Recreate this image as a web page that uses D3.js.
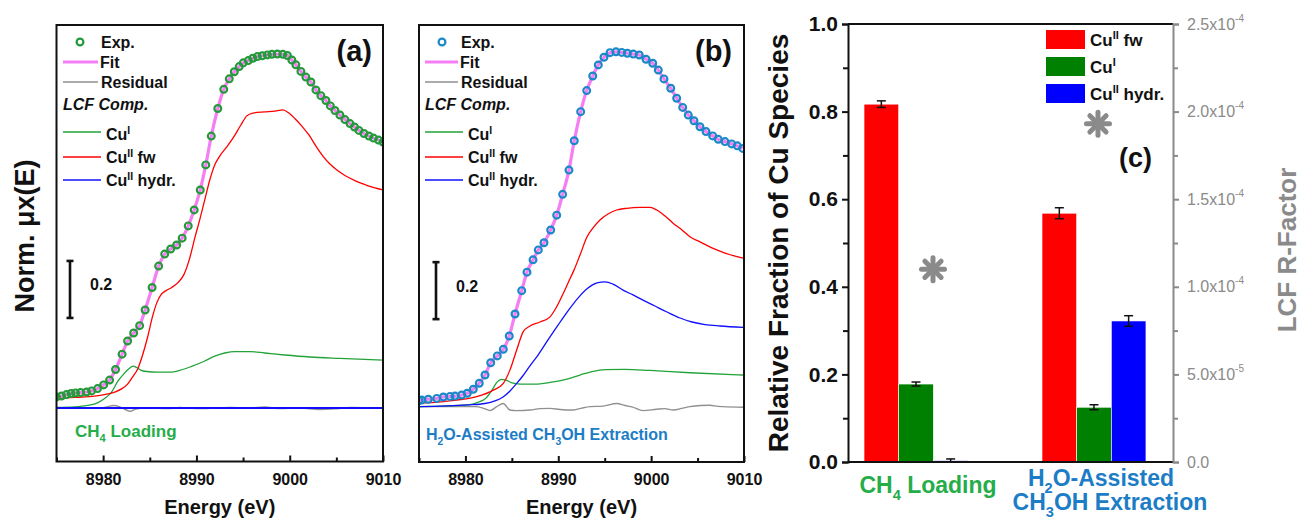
<!DOCTYPE html>
<html><head><meta charset="utf-8">
<script src="https://cdn.jsdelivr.net/npm/d3@7"></script>
<style>body{margin:0;background:#fff}svg{display:block}</style>
</head><body>
<svg id="chart" width="1302" height="520"></svg>
<script>
// ---------------- DATA ----------------
const energyTicks = [8980, 8990, 9000, 9010];
const energyMinor = [8975, 8985, 8995, 9005];

// Panel (a): CH4 loading  [energy (eV), norm. mu]
const expA = [[8975.00,0.039],[8975.54,0.042],[8976.07,0.047],[8976.56,0.051],[8977.04,0.053],[8977.58,0.054],[8978.22,0.056],[8978.76,0.060],[8979.40,0.068],[8980.05,0.081],[8980.69,0.098],[8981.33,0.135],[8982.03,0.189],[8982.62,0.235],[8983.27,0.263],[8983.91,0.289],[8984.50,0.344],[8985.25,0.423],[8985.95,0.498],[8986.60,0.540],[8987.24,0.558],[8987.88,0.572],[8988.47,0.596],[8989.12,0.639],[8989.76,0.695],[8990.41,0.765],[8991.00,0.853],[8991.59,0.954],[8992.29,1.051],[8992.93,1.118],[8993.52,1.155],[8994.06,1.180],[8994.59,1.198],[8995.02,1.211],[8995.56,1.219],[8996.04,1.227],[8996.53,1.233],[8997.06,1.236],[8997.60,1.239],[8998.08,1.241],[8998.67,1.242],[8999.26,1.241],[8999.75,1.237],[9000.23,1.221],[9000.66,1.204],[9001.20,1.181],[9001.73,1.161],[9002.27,1.144],[9002.81,1.116],[9003.34,1.096],[9003.88,1.079],[9004.36,1.060],[9004.85,1.044],[9005.38,1.028],[9005.92,1.012],[9006.46,0.998],[9006.94,0.986],[9007.42,0.974],[9007.96,0.963],[9008.50,0.954],[9008.98,0.947],[9009.52,0.940],[9010.00,0.933]];
const fitA = expA; // fit overlays the experimental points
const residA = [[8975,0],[8979.6,0],[8980.5,0.005],[8981.1,0.009],[8981.8,0.004],[8982.5,-0.007],[8982.9,-0.012],[8983.5,-0.004],[8984.5,0],[8987.1,-0.002],[8988.2,0.002],[8990.4,-0.002],[8993.6,0.002],[8995.7,0],[8997.3,0.004],[8998.9,-0.002],[9001.1,0],[9003.2,-0.005],[9004.8,-0.003],[9006.5,0.002],[9010,0]];
const cuIA = [[8975.0,0.002],[8976.93,0.004],[8978.33,0.009],[8979.40,0.018],[8980.15,0.033],[8980.90,0.056],[8981.60,0.095],[8982.19,0.119],[8982.73,0.137],[8983.21,0.147],[8983.59,0.142],[8984.02,0.133],[8984.66,0.128],[8985.84,0.126],[8987.13,0.126],[8988.21,0.132],[8989.49,0.146],[8990.89,0.165],[8991.96,0.182],[8993.04,0.193],[8994.11,0.198],[8995.72,0.198],[8997.33,0.193],[8999.48,0.186],[9002.16,0.179],[9005.38,0.174],[9010.0,0.168]];
const cuIIfwA = [[8975.0,0.034],[8976.93,0.037],[8978.54,0.040],[8980.15,0.047],[8981.23,0.056],[8981.98,0.067],[8982.62,0.084],[8983.16,0.109],[8983.70,0.137],[8984.23,0.186],[8984.77,0.249],[8985.31,0.323],[8985.74,0.368],[8986.17,0.396],[8986.70,0.411],[8987.35,0.423],[8987.99,0.439],[8988.64,0.467],[8989.28,0.526],[8989.82,0.596],[8990.35,0.660],[8990.89,0.730],[8991.43,0.800],[8991.96,0.853],[8992.50,0.884],[8993.25,0.916],[8994.00,0.951],[8994.76,0.993],[8995.40,1.025],[8996.04,1.035],[8997.33,1.039],[8998.41,1.042],[8999.26,1.046],[8999.91,1.035],[9000.55,1.016],[9001.30,0.989],[9002.06,0.958],[9002.81,0.919],[9003.56,0.884],[9004.31,0.856],[9005.06,0.835],[9005.92,0.816],[9006.99,0.798],[9008.07,0.784],[9009.14,0.772],[9010.0,0.765]];
const cuIIhydA = [[8975.0,0.0],[8990.0,0.0],[9000.0,0.0],[9010.0,0.0]];

// Panel (b): H2O-assisted CH3OH extraction
const expB = [[8975.00,0.024],[8975.29,0.026],[8976.00,0.029],[8976.91,0.032],[8977.62,0.037],[8978.34,0.039],[8978.88,0.040],[8979.60,0.044],[8980.20,0.050],[8980.85,0.064],[8981.49,0.085],[8982.11,0.114],[8982.72,0.157],[8983.43,0.181],[8984.08,0.204],[8984.72,0.251],[8985.34,0.328],[8986.06,0.410],[8986.63,0.475],[8987.28,0.518],[8987.85,0.553],[8988.46,0.578],[8989.18,0.623],[8989.83,0.675],[8990.47,0.748],[8991.15,0.833],[8991.72,0.936],[8992.41,1.038],[8993.06,1.112],[8993.71,1.163],[8994.31,1.202],[8994.92,1.229],[8995.57,1.245],[8996.21,1.248],[8996.83,1.246],[8997.43,1.243],[8998.08,1.240],[8998.72,1.237],[8999.45,1.222],[9000.17,1.208],[9000.77,1.184],[9001.38,1.153],[9002.11,1.120],[9002.75,1.085],[9003.40,1.053],[9004.00,1.026],[9004.61,1.006],[9005.26,0.985],[9005.91,0.968],[9006.63,0.953],[9007.23,0.941],[9007.95,0.933],[9008.67,0.925],[9009.28,0.918],[9009.86,0.909]];
const fitB = expB;
const residB = [[8975.0,0.003],[8981.03,0.003],[8981.9,-0.002],[8982.65,-0.011],[8983.37,0.003],[8984.08,0.014],[8984.80,-0.009],[8985.52,-0.011],[8986.95,-0.009],[8988.03,-0.004],[8989.11,-0.003],[8990.18,-0.007],[8991.62,-0.009],[8992.55,-0.002],[8993.42,0.003],[8994.81,0.005],[8996.29,0.014],[8997.18,0.007],[8997.94,0.002],[8999.15,-0.011],[9000.60,-0.006],[9001.49,-0.004],[9002.39,-0.009],[9003.43,-0.002],[9004.18,0.003],[9005.26,0.007],[9006.34,0.008],[9007.2,0.004],[9007.77,0.003],[9009.92,0.001]];
const cuIB = [[8975.0,0.003],[8980.28,0.009],[8981.35,0.018],[8982.22,0.033],[8982.86,0.061],[8983.40,0.089],[8983.88,0.099],[8984.37,0.096],[8985.02,0.086],[8985.88,0.082],[8987.49,0.082],[8989.11,0.088],[8990.72,0.098],[8992.34,0.114],[8993.63,0.126],[8995.03,0.133],[8997.18,0.134],[8999.88,0.130],[9004.18,0.122],[9009.92,0.114]];
const cuIIfwB = [[8975.1,0.015],[8979.06,0.026],[8981.21,0.038],[8983.0,0.061],[8984.08,0.085],[8984.80,0.132],[8985.52,0.202],[8986.23,0.266],[8986.95,0.286],[8988.03,0.300],[8989.11,0.318],[8989.75,0.349],[8990.40,0.391],[8991.05,0.437],[8991.69,0.482],[8992.34,0.535],[8993.09,0.598],[8993.74,0.630],[8994.49,0.658],[8995.35,0.679],[8996.29,0.693],[8997.37,0.699],[8998.80,0.702],[8999.88,0.702],[9000.60,0.693],[9001.49,0.672],[9002.39,0.646],[9003.32,0.623],[9004.18,0.599],[9005.26,0.581],[9006.55,0.560],[9007.95,0.542],[9009.92,0.524]];
const cuIIhydB = [[8975.0,0.003],[8980.28,0.009],[8982.11,0.014],[8983.18,0.023],[8984.05,0.037],[8984.80,0.058],[8985.45,0.082],[8986.09,0.107],[8986.95,0.146],[8987.82,0.184],[8988.89,0.237],[8989.97,0.289],[8991.05,0.339],[8992.12,0.384],[8993.20,0.419],[8994.17,0.437],[8995.03,0.441],[8995.89,0.433],[8996.97,0.412],[8998.05,0.395],[8999.12,0.377],[9000.41,0.356],[9001.71,0.335],[9003.11,0.314],[9004.40,0.300],[9005.80,0.291],[9007.42,0.286],[9009.92,0.281]];

// Panel (c): relative fractions
const categories = ["CH4 Loading", "H2O-Assisted CH3OH Extraction"];
const species = ["CuII fw", "CuI", "CuII hydr."];
const fracCuIIfw = [0.817, 0.568];
const fracCuI = [0.178, 0.125];
const fracCuIIhydr = [0.003, 0.322];
const errCuIIfw = [0.0075, 0.0125];
const errCuI = [0.0046, 0.0057];
const errCuIIhydr = [0.004, 0.012];
const rFactor = [1.10e-4, 1.93e-4];
const fracTicks = [0, 0.2, 0.4, 0.6, 0.8, 1.0];
const fracMinor = [0.1, 0.3, 0.5, 0.7, 0.9];
const rTicks = [0, 5e-5, 1e-4, 1.5e-4, 2e-4, 2.5e-4];
const rMinor = [2.5e-5, 7.5e-5, 1.25e-4, 1.75e-4, 2.25e-4];
const rTickLabels = [["0.0",""],["5.0x10","-5"],["1.0x10","-4"],["1.5x10","-4"],["2.0x10","-4"],["2.5x10","-4"]];
const scaleBarLength = 0.2;

// ---------------- STYLE ----------------
const FONT = "'Liberation Sans', Arial, Helvetica, sans-serif";
const C = {red:"#ff0000", green:"#22a33a", blue:"#1010ff", gray:"#8a8a8a", fit:"#f57ef5",
  barRed:"#ff0000", barGreen:"#008000", barBlue:"#0000ff", axisGray:"#8a8a8a",
  lblGreen:"#25ad4a", lblBlue:"#1c7dc6"};

const svg = d3.select("#chart").attr("font-family", FONT);

function rich(sel, parts, size) {
  let shift = 0;
  parts.forEach(([s, m]) => {
    const target = m === "sub" ? size * 0.3 : m === "sup" ? -size * 0.4 : 0;
    const ts = sel.append("tspan").text(s).attr("dy", target - shift);
    if (m) ts.attr("font-size", size * 0.65);
    shift = target;
  });
}

// ---------------- SPECTRA PANELS ----------------
function spectra(P) {
  const g = svg.append("g");
  const x = d3.scaleLinear().domain([8975, 9010]).range([P.left, P.right]);
  const y = d3.scaleLinear().domain([0, 1]).range([P.zero, P.zero - 285]);
  const cid = "clip" + P.id;
  svg.append("clipPath").attr("id", cid).append("rect")
    .attr("x", P.left).attr("y", P.top).attr("width", P.right - P.left).attr("height", P.bottom - P.top);
  const line = d3.line().x(d => x(d[0])).y(d => y(d[1])).curve(d3.curveMonotoneX);
  const plot = g.append("g").attr("clip-path", `url(#${cid})`);
  const add = (data, col, w) => plot.append("path").datum(data).attr("d", line)
    .attr("fill", "none").attr("stroke", col).attr("stroke-width", w).attr("stroke-linejoin", "round");
  add(P.resid, "#909090", 1.4);
  add(P.cuI, C.green, 1.3);
  add(P.cuIIfw, C.red, 1.3);
  add(P.cuIIhyd, C.blue, P.id === "a" ? 1.8 : 1.3);
  add(P.fit, C.fit, 3.2);
  plot.selectAll("circle.exp").data(P.exp).join("circle").attr("class", "exp")
    .attr("cx", d => x(d[0])).attr("cy", d => y(d[1])).attr("r", 3.4)
    .attr("fill", "none").attr("stroke", P.expColor).attr("stroke-width", 2.2);

  // frame
  g.append("rect").attr("x", P.left).attr("y", P.top).attr("width", P.right - P.left)
    .attr("height", P.bottom - P.top).attr("fill", "none").attr("stroke", "#111").attr("stroke-width", 2);

  // x axis
  const ax = g.append("g").attr("transform", `translate(0,${P.bottom})`)
    .call(d3.axisBottom(x).tickValues(energyTicks).tickSize(-6).tickPadding(12).tickFormat(d3.format("d")));
  ax.select(".domain").remove();
  ax.selectAll("line").attr("stroke", "#111").attr("stroke-width", 2);
  ax.selectAll("text").attr("font-size", 16).attr("font-weight", "bold").attr("fill", "#111").attr("font-family", FONT);
  const axm = g.append("g").attr("transform", `translate(0,${P.bottom})`)
    .call(d3.axisBottom(x).tickValues(energyMinor).tickSize(-4).tickFormat(""));
  axm.select(".domain").remove();
  axm.selectAll("line").attr("stroke", "#111").attr("stroke-width", 2);

  g.append("text").attr("x", (P.left + P.right) / 2).attr("y", 514).attr("text-anchor", "middle")
    .attr("font-size", 20).attr("font-weight", "bold").attr("fill", "#111").text("Energy (eV)");

  // panel tag
  g.append("text").attr("x", P.tagX).attr("y", 61).attr("text-anchor", "end")
    .attr("font-size", 29).attr("font-weight", "bold").attr("fill", "#111").text(P.tag);

  // scale bar
  const yb0 = y(P.barBase), yb1 = y(P.barBase + scaleBarLength);
  const sb = g.append("g").attr("stroke", "#111").attr("stroke-width", 2.6);
  sb.append("line").attr("x1", P.barX).attr("x2", P.barX).attr("y1", yb0).attr("y2", yb1);
  sb.append("line").attr("x1", P.barX - 3.5).attr("x2", P.barX + 3.5).attr("y1", yb0).attr("y2", yb0);
  sb.append("line").attr("x1", P.barX - 3.5).attr("x2", P.barX + 3.5).attr("y1", yb1).attr("y2", yb1);
  g.append("text").attr("x", P.barX + 20).attr("y", P.barTextY).attr("font-size", 16).attr("font-weight", "bold")
    .attr("fill", "#111").text(scaleBarLength.toFixed(1));

  // sample label
  const st = g.append("text").attr("x", P.sampleX).attr("y", P.sampleY).attr("font-size", P.sampleSize)
    .attr("font-weight", "bold").attr("fill", P.sampleColor);
  rich(st, P.sample, P.sampleSize);

  // legend
  const L = P.leg, fs = 16;
  const lg = g.append("g").attr("font-size", fs).attr("font-weight", "bold").attr("fill", "#111");
  lg.append("circle").attr("cx", L.mx).attr("cy", 42).attr("r", 3.4).attr("fill", "none")
    .attr("stroke", P.expColor).attr("stroke-width", 2.2);
  lg.append("text").attr("x", L.tx).attr("y", 48).text("Exp.");
  lg.append("line").attr("x1", L.x0).attr("x2", L.x1).attr("y1", 62).attr("y2", 62).attr("stroke", C.fit).attr("stroke-width", 3.2);
  lg.append("text").attr("x", L.tx - 1).attr("y", 68).text("Fit");
  lg.append("line").attr("x1", L.x0).attr("x2", L.x1).attr("y1", 82).attr("y2", 82).attr("stroke", "#909090").attr("stroke-width", 1.4);
  lg.append("text").attr("x", L.tx).attr("y", 88).text("Residual");
  lg.append("text").attr("x", L.x0).attr("y", 110).attr("font-style", "italic").text("LCF Comp.");
  const comps = [[C.green, [["Cu",""],["I","sup"]], 132, 140],
                 [C.red, [["Cu",""],["II","sup"],[" fw",""]], 157, 163],
                 [C.blue, [["Cu",""],["II","sup"],[" hydr.",""]], 180, 186]];
  comps.forEach(([col, parts, ly, ty]) => {
    lg.append("line").attr("x1", L.x0).attr("x2", L.cx1).attr("y1", ly).attr("y2", ly).attr("stroke", col).attr("stroke-width", 1.4);
    rich(lg.append("text").attr("x", L.ctx).attr("y", ty), parts, fs);
  });
}

spectra({id:"a", left:56.5, right:383, top:25, bottom:461.5, zero:408,
  exp:expA, fit:fitA, resid:residA, cuI:cuIA, cuIIfw:cuIIfwA, cuIIhyd:cuIIhydA,
  expColor:"#259a3b", tag:"(a)", tagX:372, barX:70, barBase:0.316, barTextY:290,
  sample:[["CH",""],["4","sub"],[" Loading",""]], sampleColor:C.lblGreen, sampleX:75, sampleY:437, sampleSize:17,
  leg:{mx:80, tx:101, x0:63, x1:98, cx1:101, ctx:106}});

spectra({id:"b", left:419, right:744, top:25, bottom:462, zero:407.5,
  exp:expB, fit:fitB, resid:residB, cuI:cuIB, cuIIfw:cuIIfwB, cuIIhyd:cuIIhydB,
  expColor:"#1b88c8", tag:"(b)", tagX:732, barX:436, barBase:0.31, barTextY:292,
  sample:[["H",""],["2","sub"],["O-Assisted CH",""],["3","sub"],["OH Extraction",""]], sampleColor:C.lblBlue, sampleX:426, sampleY:440, sampleSize:16,
  leg:{mx:442, tx:461, x0:425, x1:458, cx1:463, ctx:468}});

// y label for (a)
svg.append("text").attr("transform", "translate(34,236) rotate(-90)").attr("text-anchor", "middle")
  .attr("font-size", 27).attr("font-weight", "bold").attr("fill", "#111").text("Norm. μx(E)");

// ---------------- PANEL (c) ----------------
(function () {
  const L = 848, R = 1173, T = 24, B = 462;
  const g = svg.append("g");
  const y = d3.scaleLinear().domain([0, 1]).range([B, T]);
  const yR = d3.scaleLinear().domain([0, 2.5e-4]).range([B, T]);
  const x0 = d3.scaleBand().domain(categories).range([L, R]).paddingInner(0.416).paddingOuter(0.121).align(0.372);
  const x1 = d3.scaleBand().domain(species).range([0, x0.bandwidth()]);
  const vals = [fracCuIIfw, fracCuI, fracCuIIhydr];
  const errs = [errCuIIfw, errCuI, errCuIIhydr];
  const cols = [C.barRed, C.barGreen, C.barBlue];

  const recs = [];
  categories.forEach((c, i) => species.forEach((s, j) => recs.push({c, s, v: vals[j][i], e: errs[j][i], col: cols[j]})));

  g.selectAll("rect.bar").data(recs).join("rect").attr("class", "bar")
    .attr("x", d => x0(d.c) + x1(d.s)).attr("width", x1.bandwidth())
    .attr("y", d => y(d.v)).attr("height", d => B - y(d.v))
    .attr("fill", d => d.col).attr("stroke", "#ffffff").attr("stroke-width", 0.6);

  // error bars
  const eb = g.append("g").attr("stroke", "#111").attr("stroke-width", 1.5);
  recs.forEach(d => {
    const cx = x0(d.c) + x1(d.s) + x1.bandwidth() / 2;
    const lo = Math.max(0, d.v - d.e), hi = d.v + d.e;
    eb.append("line").attr("x1", cx).attr("x2", cx).attr("y1", y(lo)).attr("y2", y(hi));
    eb.append("line").attr("x1", cx - 4.5).attr("x2", cx + 4.5).attr("y1", y(hi)).attr("y2", y(hi));
    eb.append("line").attr("x1", cx - 4.5).attr("x2", cx + 4.5).attr("y1", y(lo)).attr("y2", y(lo));
  });

  // R-factor asterisks
  const rDx = [17, 4];
  categories.forEach((c, i) => {
    const cx = x0(c) + x0.bandwidth() / 2 + rDx[i], cy = yR(rFactor[i]);
    const a = g.append("g").attr("stroke", C.axisGray).attr("stroke-width", 5).attr("stroke-linecap", "round");
    [0, 45, 90, 135].forEach(ang => {
      const r = 11.5, t = ang * Math.PI / 180;
      a.append("line").attr("x1", cx - r * Math.cos(t)).attr("y1", cy - r * Math.sin(t))
        .attr("x2", cx + r * Math.cos(t)).attr("y2", cy + r * Math.sin(t));
    });
  });

  // frame lines
  g.append("line").attr("x1", L).attr("x2", R).attr("y1", T).attr("y2", T).attr("stroke", "#111").attr("stroke-width", 2);
  g.append("line").attr("x1", L).attr("x2", R).attr("y1", B).attr("y2", B).attr("stroke", "#111").attr("stroke-width", 2);

  // left axis
  const la = g.append("g").attr("transform", `translate(${L},0)`)
    .call(d3.axisLeft(y).tickValues(fracTicks).tickSize(6).tickPadding(4).tickFormat(d3.format(".1f")));
  la.select(".domain").attr("stroke", "#111").attr("stroke-width", 2);
  la.selectAll("line").attr("stroke", "#111").attr("stroke-width", 2);
  la.selectAll("text").attr("font-size", 21).attr("font-weight", "bold").attr("fill", "#111").attr("font-family", FONT);
  const lm = g.append("g").attr("transform", `translate(${L},0)`).call(d3.axisLeft(y).tickValues(fracMinor).tickSize(5).tickFormat(""));
  lm.select(".domain").remove();
  lm.selectAll("line").attr("stroke", "#111").attr("stroke-width", 2);

  // right axis
  const ra = g.append("g").attr("transform", `translate(${R},0)`)
    .call(d3.axisRight(yR).tickValues(rTicks).tickSize(6).tickPadding(8).tickFormat(""));
  ra.select(".domain").attr("stroke", C.axisGray).attr("stroke-width", 2);
  ra.selectAll("line").attr("stroke", C.axisGray).attr("stroke-width", 2);
  ra.selectAll(".tick text").each(function (d, i) {
    const t = d3.select(this).attr("font-size", 16).attr("fill", C.axisGray).attr("font-family", FONT).attr("dy", "0.32em");
    const [m, e] = rTickLabels[i];
    t.append("tspan").text(m);
    if (e) t.append("tspan").text(e).attr("font-size", 10).attr("dy", -8);
  });
  const rm = g.append("g").attr("transform", `translate(${R},0)`).call(d3.axisRight(yR).tickValues(rMinor).tickSize(5).tickFormat(""));
  rm.select(".domain").remove();
  rm.selectAll("line").attr("stroke", C.axisGray).attr("stroke-width", 2);

  // axis titles
  g.append("text").attr("transform", "translate(788,243) rotate(-90)").attr("text-anchor", "middle")
    .attr("font-size", 28).attr("font-weight", "bold").attr("fill", "#111").text("Relative Fraction of Cu Species");
  g.append("text").attr("transform", "translate(1296,250) rotate(-90)").attr("text-anchor", "middle")
    .attr("font-size", 26).attr("font-weight", "bold").attr("fill", C.axisGray).text("LCF R-Factor");

  // category labels
  const catLines = [
    [[[["CH",""],["4","sub"],[" Loading",""]], 12, 493, C.lblGreen]],
    [[[["H",""],["2","sub"],["O-Assisted",""]], 7, 486, C.lblBlue],
     [[["CH",""],["3","sub"],["OH Extraction",""]], 16, 510, C.lblBlue]]
  ];
  categories.forEach((c, i) => {
    catLines[i].forEach(([parts, dx, yy, col]) => {
      const t = g.append("text").attr("x", x0(c) + x0.bandwidth() / 2 + dx).attr("y", yy)
        .attr("text-anchor", "middle").attr("font-size", 23).attr("font-weight", "bold").attr("fill", col);
      rich(t, parts, 22.5);
    });
  });

  // legend
  const legParts = [[["Cu",""],["II","sup"],[" fw",""]], [["Cu",""],["I","sup"]], [["Cu",""],["II","sup"],[" hydr.",""]]];
  species.forEach((s, j) => {
    const yy = 30 + j * 27;
    g.append("rect").attr("x", 1046).attr("y", yy).attr("width", 39).attr("height", 19).attr("fill", cols[j]);
    const t = g.append("text").attr("x", 1090).attr("y", yy + 16).attr("font-size", 17).attr("font-weight", "bold").attr("fill", "#111");
    rich(t, legParts[j], 17);
  });

  g.append("text").attr("x", 1152).attr("y", 167).attr("text-anchor", "end").attr("font-size", 27)
    .attr("font-weight", "bold").attr("fill", "#111").text("(c)");
})();
</script>
</body></html>
